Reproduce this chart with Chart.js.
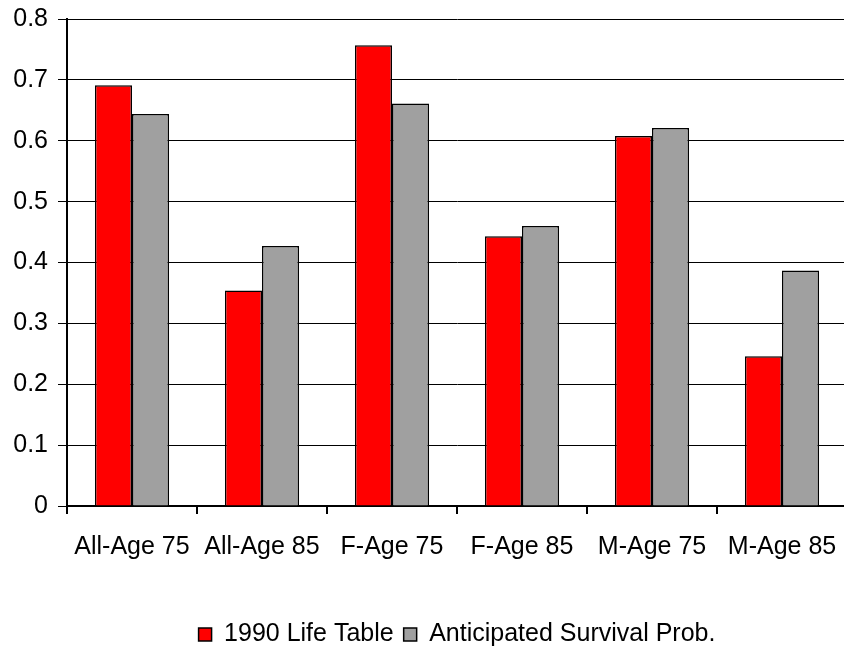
<!DOCTYPE html>
<html>
<head>
<meta charset="utf-8">
<script src="https://cdn.jsdelivr.net/npm/chart.js@4/dist/chart.umd.min.js"></script>
<style>
  html, body { margin: 0; padding: 0; background: #fff; overflow: hidden; }
  #wrap { width: 848px; height: 657px; }
</style>
</head>
<body>
<div id="wrap"><canvas id="barChart" width="848" height="657"></canvas></div>
<script>
// categories and series
const categories = ["All-Age 75", "All-Age 85", "F-Age 75", "F-Age 85", "M-Age 75", "M-Age 85"];
const lifeTable = [0.691, 0.354, 0.757, 0.443, 0.608, 0.246];
const anticipated = [0.644, 0.427, 0.661, 0.460, 0.621, 0.387];
const yTicks = [0, 0.1, 0.2, 0.3, 0.4, 0.5, 0.6, 0.7, 0.8];

const font = { family: "'Liberation Sans', Arial, sans-serif", size: 25 };

const ctx = document.getElementById("barChart").getContext("2d");
new Chart(ctx, {
  type: "bar",
  data: {
    labels: categories,
    datasets: [
      {
        label: "1990 Life Table",
        data: lifeTable,
        backgroundColor: "#ff0000",
        borderColor: "#000",
        borderWidth: 1.5,
        borderSkipped: "bottom",
      },
      {
        label: "Anticipated Survival Prob.",
        data: anticipated,
        backgroundColor: "#a0a0a0",
        borderColor: "#000",
        borderWidth: 1.5,
        borderSkipped: "bottom",
      },
    ],
  },
  options: {
    responsive: false,
    animation: false,
    devicePixelRatio: 1,
    datasets: { bar: { categoryPercentage: 0.57, barPercentage: 1.0 } },
    layout: { padding: { top: 19, right: 1, left: 0, bottom: 0 } },
    plugins: {
      tooltip: { enabled: false },
      legend: {
        position: "bottom",
        fullSize: false,
        labels: {
          color: "#000",
          font: font,
          boxWidth: 13,
          boxHeight: 13,
          padding: 10,
        },
      },
    },
    scales: {
      x: {
        grid: {
          offset: true,
          drawOnChartArea: false,
          drawTicks: true,
          tickLength: 8,
          color: "#000",
          lineWidth: 2,
        },
        border: { color: "#000", width: 2 },
        ticks: { color: "#000", font: font, padding: 18, maxRotation: 0, autoSkip: false },
        afterFit: function (scale) {
          scale.height = 106;
          scale.paddingLeft = 0;
          scale.paddingRight = 0;
        },
      },
      y: {
        min: 0,
        max: 0.8,
        afterBuildTicks: function (scale) {
          scale.ticks = yTicks.map(v => ({ value: v }));
        },
        grid: { color: "#000", lineWidth: 1, tickLength: 9 },
        border: { color: "#000", width: 2 },
        ticks: {
          color: "#000",
          font: font,
          padding: 10,
          callback: v => (v === 0 ? "0" : v.toFixed(1)),
        },
        afterFit: function (scale) {
          scale.width = 67;
          scale.paddingTop = 0;
          scale.paddingBottom = 0;
        },
      },
    },
  },
});
</script>
</body>
</html>
